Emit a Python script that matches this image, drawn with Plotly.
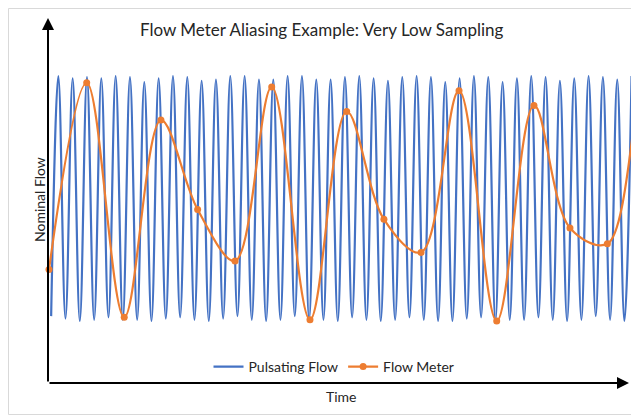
import plotly.graph_objects as go

# ---------------- data ----------------
# Pulsating flow: value at each successive trough / peak (normalised flow),
# extrema are half a cycle apart, first one is a trough at time 0.
pulsating_troughs = [-0.96, -0.98, -1.00, -0.99, -0.97, -0.99, -0.99, -1.00, -0.98, -0.97,
                     -0.99, -1.00, -0.98, -0.96, -0.99, -1.00, -0.99, -0.96, -0.99, -0.99,
                     -1.00, -0.97, -0.99, -1.00, -0.99, -0.97, -0.99, -1.00, -1.00, -0.98,
                     -0.97, -1.00, -0.99, -0.99, -0.97, -0.99, -1.00, -0.99, -0.96, -0.99,
                     -1.00]
pulsating_peaks = [1.00, 0.98, 0.99, 0.98, 1.00, 0.99, 0.95, 0.98, 1.00, 0.99,
                   0.96, 0.97, 1.00, 1.00, 0.97, 0.97, 1.00, 1.00, 0.97, 0.97,
                   0.99, 1.00, 0.98, 0.96, 0.99, 1.00, 0.99, 0.95, 0.98, 1.00,
                   0.99, 0.95, 0.98, 1.00, 0.99, 0.96, 0.98, 1.00, 0.99, 0.97,
                   1.00]
half_cycle = 0.5  # time between successive extrema (time unit = one pulsation cycle)

# Flow meter: sparse samples (last two lie just past the right edge)
meter_time = [-0.15, 2.48, 5.10, 7.66, 10.22, 12.83, 15.39, 18.06, 20.62, 23.22,
              25.81, 28.46, 31.09, 33.69, 36.20, 38.81, 41.42, 44.02]
meter_flow = [-0.58, 0.945, -0.97, 0.64, -0.09, -0.51, 0.91, -0.99, 0.71, -0.17,
              -0.44, 0.88, -1.00, 0.76, -0.24, -0.37, 0.97, -1.00]

title_text = "Flow Meter Aliasing Example: Very Low Sampling"
x_title = "Time"
y_title = "Nominal Flow"

# ---------------- build series ----------------
pulse_vals = []
for tr, pk in zip(pulsating_troughs, pulsating_peaks):
    pulse_vals += [tr, pk]
pulse_time = [i * half_cycle for i in range(len(pulse_vals))]

BLUE = "#4472C4"
ORANGE = "#ED7D31"
TEXT = "#262626"
FONT = "Lato"

fig = go.Figure()
fig.add_trace(go.Scatter(
    x=pulse_time, y=pulse_vals, mode="lines", name="Pulsating Flow",
    line=dict(color=BLUE, width=2.2, shape="spline", smoothing=1.1),
))
fig.add_trace(go.Scatter(
    x=meter_time, y=meter_flow, mode="lines+markers", name="Flow Meter",
    line=dict(color=ORANGE, width=2.2, shape="spline", smoothing=1.0),
    marker=dict(color=ORANGE, size=7),
    cliponaxis=False,
))

W, H = 631, 416
L, R, T, B = 49, 0, 20, 33
pw = W - L - R
ph = H - T - B

def px_x(p):  # screen pixel -> paper x
    return (p - L) / pw

def px_y(p):  # screen pixel -> paper y
    return (H - B - p) / ph

fig.update_layout(
    width=W, height=H,
    margin=dict(l=L, r=R, t=T, b=B, pad=0),
    paper_bgcolor="white", plot_bgcolor="white",
    font=dict(family=FONT, color=TEXT, size=13),
    showlegend=True,
    legend=dict(orientation="h", xanchor="center", yanchor="middle",
                x=px_x(334), y=px_y(367), bgcolor="rgba(0,0,0,0)",
                font=dict(size=14, family=FONT, color=TEXT),
                itemwidth=30, tracegroupgap=0),
    xaxis=dict(range=[-0.15, 40.46], showgrid=False, zeroline=False,
               showticklabels=False, ticks="", showline=False, fixedrange=True),
    yaxis=dict(range=[-1.506, 1.457], showgrid=False, zeroline=False,
               showticklabels=False, ticks="", showline=False, fixedrange=True),
    shapes=[dict(type="rect", xref="paper", yref="paper",
                 x0=px_x(8.5), x1=px_x(640), y0=px_y(414.5), y1=px_y(8.5),
                 line=dict(color="#d9d9d9", width=1), layer="below")],
    annotations=[
        dict(text=title_text, xref="paper", yref="paper", x=px_x(321), y=px_y(29),
             showarrow=False, xanchor="center", yanchor="middle",
             font=dict(size=17, family=FONT, color=TEXT)),
        dict(text=x_title, xref="paper", yref="paper", x=px_x(341), y=px_y(396),
             showarrow=False, xanchor="center", yanchor="middle",
             font=dict(size=14, family=FONT, color=TEXT)),
        dict(text=y_title, xref="paper", yref="paper", x=px_x(39), y=px_y(200),
             showarrow=False, xanchor="center", yanchor="middle", textangle=-90,
             font=dict(size=14, family=FONT, color=TEXT)),
        # y axis with arrow
        dict(text="", xref="paper", yref="paper", x=px_x(48), y=px_y(18),
             ax=0, ay=383 - 18, showarrow=True, arrowhead=2, arrowsize=1.2,
             arrowwidth=2, arrowcolor="black"),
        # x axis with arrow
        dict(text="", xref="paper", yref="paper", x=px_x(629), y=px_y(383),
             ax=-(629 - 48), ay=0, showarrow=True, arrowhead=2, arrowsize=1.2,
             arrowwidth=2, arrowcolor="black"),
    ],
)

fig.write_html(
    "out.html",
    config={"displayModeBar": False},
    post_script="document.body.style.margin='0';document.body.style.overflow='hidden';",
)
